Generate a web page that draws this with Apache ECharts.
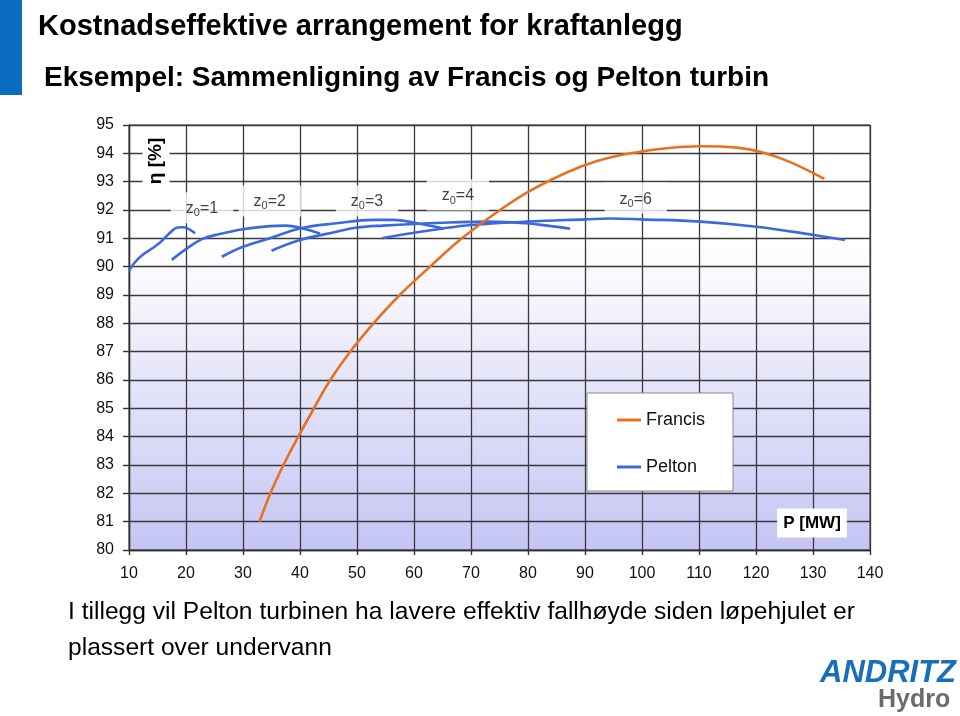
<!DOCTYPE html>
<html>
<head>
<meta charset="utf-8">
<script src="https://cdn.jsdelivr.net/npm/echarts@6/dist/echarts.min.js"></script>
<style>
html,body{margin:0;padding:0;background:#fff;}
#chart{width:960px;height:716px;}
</style>
</head>
<body>
<div id="chart"></div>
<script>
// ---- data (P in MW, efficiency in %) ----
var xTicks = [10, 140, 10];   // min, max, step
var yTicks = [80, 95, 1];

var francisP   = [32.9, 34.7, 37.1, 39.7, 42.3, 45.3, 48.8, 52.9, 57.5, 62.8, 68.4, 75.1, 80.1, 87.1, 92.0, 98.0, 104.4, 110.1, 116.6, 120.9, 125.9, 132.0];
var francisEta = [81.0, 81.95, 83.0, 84.0, 84.95, 86.0, 87.0, 88.0, 89.0, 90.0, 91.0, 92.0, 92.65, 93.35, 93.72, 94.0, 94.18, 94.25, 94.2, 94.05, 93.7, 93.1];

var pelton1P   = [10.0, 10.9, 12.35, 14.1, 15.6, 17.1, 18.5, 19.4, 20.3, 21.6];
var pelton1Eta = [89.85, 90.12, 90.41, 90.65, 90.88, 91.18, 91.38, 91.39, 91.35, 91.18];

var pelton2P   = [17.5, 20.0, 22.9, 25.9, 30.0, 34.7, 37.5, 40.5, 43.5];
var pelton2Eta = [90.24, 90.62, 90.98, 91.15, 91.32, 91.43, 91.45, 91.35, 91.17];

var pelton3P   = [26.3, 30.0, 34.7, 40.0, 46.4, 52.9, 56.4, 60.5, 65.1];
var pelton3Eta = [90.35, 90.7, 91.0, 91.35, 91.53, 91.65, 91.65, 91.53, 91.35];

var pelton4P   = [35.0, 40.0, 46.4, 50.0, 54.6, 65.1, 73.3, 79.7, 84.0, 87.4];
var pelton4Eta = [90.56, 90.94, 91.23, 91.38, 91.45, 91.55, 91.59, 91.53, 91.43, 91.34];

var pelton6P   = [54.4, 57.5, 65.1, 70.1, 79.7, 90.0, 94.4, 99.9, 110.2, 120.1, 130.1, 135.6];
var pelton6Eta = [91.0, 91.12, 91.35, 91.47, 91.59, 91.67, 91.7, 91.67, 91.59, 91.41, 91.12, 90.94];

var jetCounts  = ['1', '2', '3', '4', '6'];
var jetLabelP  = [22.8, 34.7, 51.75, 67.7, 98.9];
var jetLabelEta= [92.08, 92.32, 92.32, 92.53, 92.42];

var legendNames = ['Francis', 'Pelton'];
var titleText = 'Kostnadseffektive arrangement for kraftanlegg';
var subtitleText = 'Eksempel: Sammenligning av Francis og Pelton turbin';
var noteLine1 = 'I tillegg vil Pelton turbinen ha lavere effektiv fallhøyde siden løpehjulet er';
var noteLine2 = 'plassert over undervann';
var yName = 'η [%]';
var xName = 'P [MW]';

// ---- build ----
function pairs(xs, ys) { return xs.map(function (x, i) { return [x, ys[i]]; }); }

var FONT = '"Liberation Sans", Arial, sans-serif';
var ORANGE = '#e8711f';
var BLUE = '#3c69dc';

var peltonSets = [[pelton1P, pelton1Eta], [pelton2P, pelton2Eta], [pelton3P, pelton3Eta], [pelton4P, pelton4Eta], [pelton6P, pelton6Eta]];

var series = [{
  name: 'Francis', type: 'line', data: pairs(francisP, francisEta),
  smooth: 0.35, showSymbol: false, symbol: 'none',
  lineStyle: { color: ORANGE, width: 2.6 }, itemStyle: { color: ORANGE }, z: 4
}];
peltonSets.forEach(function (s) {
  series.push({
    name: 'Pelton', type: 'line', data: pairs(s[0], s[1]),
    smooth: 0.4, showSymbol: false, symbol: 'none',
    lineStyle: { color: BLUE, width: 2.6 }, itemStyle: { color: BLUE }, z: 3
  });
});
series.push({
  name: 'jets', type: 'scatter', symbolSize: 0, z: 2,
  data: jetLabelP.map(function (x, i) { return { value: [x, jetLabelEta[i]], n: jetCounts[i] }; }),
  label: {
    show: true, position: 'inside',
    formatter: function (p) { return '{a|z}{s|0}{a|=' + p.data.n + '}'; },
    backgroundColor: '#fff', padding: [7, 15, 5, 15],
    rich: {
      a: { fontSize: 16, fontFamily: FONT, color: '#111', lineHeight: 19 },
      s: { fontSize: 11, fontFamily: FONT, color: '#111', lineHeight: 19, padding: [9, 0, 0, 0] }
    }
  }
});

var chart = echarts.init(document.getElementById('chart'), null, { renderer: 'canvas' });
chart.setOption({
  animation: false,
  backgroundColor: '#fff',
  grid: {
    left: 129, right: 90, top: 125, bottom: 166, show: true,
    borderColor: '#3a3a3a', borderWidth: 1,
    backgroundColor: new echarts.graphic.LinearGradient(0, 0, 0, 1, [
      { offset: 0, color: '#ffffff' },
      { offset: 0.28, color: '#ffffff' },
      { offset: 1, color: '#c5c5f4' }
    ])
  },
  legend: {
    data: legendNames, orient: 'vertical', left: 587, top: 393,
    icon: 'rect', itemWidth: 24, itemHeight: 3, itemGap: 27,
    backgroundColor: '#fff', borderColor: '#8a8a8a', borderWidth: 1,
    padding: [17, 28, 14, 30],
    textStyle: { fontSize: 18, fontFamily: FONT, color: '#111', lineHeight: 20 }
  },
  xAxis: {
    type: 'value', min: xTicks[0], max: xTicks[1], interval: xTicks[2],
    axisLine: { show: true, lineStyle: { color: '#333', width: 1.4 } },
    axisTick: { show: true, length: 5, lineStyle: { color: '#333', width: 1.4 } },
    axisLabel: { fontSize: 16, fontFamily: FONT, color: '#111', margin: 16 },
    splitLine: { show: true, lineStyle: { color: '#3a3a3a', width: 1.3 } }
  },
  yAxis: {
    type: 'value', min: yTicks[0], max: yTicks[1], interval: yTicks[2],
    axisLine: { show: true, lineStyle: { color: '#333', width: 1.4 } },
    axisTick: { show: true, length: 6, lineStyle: { color: '#333', width: 1.4 } },
    axisLabel: { fontSize: 16, fontFamily: FONT, color: '#111', margin: 15 },
    splitLine: { show: true, lineStyle: { color: '#3a3a3a', width: 1.3 } }
  },
  series: series,
  graphic: [
    { type: 'rect', shape: { x: 0, y: 0, width: 22, height: 95 }, style: { fill: '#0a6dbd' }, z: 10 },
    { type: 'text', x: 38, y: 12, z: 10,
      style: { text: titleText, font: 'bold 29px ' + FONT, fill: '#000' } },
    { type: 'text', x: 44, y: 64, z: 10,
      style: { text: subtitleText, font: 'bold 28px ' + FONT, fill: '#000' } },
    { type: 'text', x: 156, y: 161, rotation: Math.PI / 2, z: 10,
      style: { text: yName, font: 'bold 19px ' + FONT, fill: '#000', align: 'center', verticalAlign: 'middle',
               backgroundColor: '#fff', padding: [4, 10, 4, 10] } },
    { type: 'text', x: 812, y: 523, z: 10,
      style: { text: xName, font: 'bold 17px ' + FONT, fill: '#000', align: 'center', verticalAlign: 'middle',
               backgroundColor: '#fff', padding: [6, 6, 6, 6] } },
    { type: 'text', x: 68, y: 600, z: 10,
      style: { text: noteLine1, font: '24.6px ' + FONT, fill: '#000' } },
    { type: 'text', x: 68, y: 636, z: 10,
      style: { text: noteLine2, font: '24.6px ' + FONT, fill: '#000' } },
    { type: 'text', x: 820, y: 658, z: 10,
      style: { text: 'ANDRITZ', font: 'italic bold 31px ' + FONT, fill: '#1a6fba' } },
    { type: 'text', x: 878, y: 688, z: 10,
      style: { text: 'Hydro', font: 'bold 25px ' + FONT, fill: '#6b6b6b' } }
  ]
});
</script>
</body>
</html>
